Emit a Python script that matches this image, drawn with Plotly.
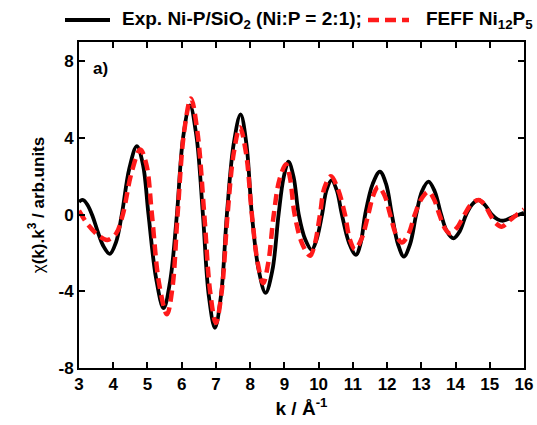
import plotly.graph_objects as go

# chi(k)*k^3 EXAFS oscillations: experimental spectrum and FEFF model
k_exp = [3.00, 3.12, 3.25, 3.40, 3.55, 3.70, 3.90, 4.08, 4.25, 4.47, 4.69, 4.87, 5.03, 5.25,
         5.47, 5.66, 5.86, 6.04, 6.24, 6.43, 6.62, 6.79, 6.97, 7.15, 7.32, 7.52, 7.72,
         7.89, 8.05, 8.25, 8.45, 8.65, 8.83, 8.98, 9.12, 9.27, 9.42, 9.61, 9.80, 9.94,
         10.10, 10.23, 10.38, 10.53, 10.68, 10.89, 11.09, 11.23, 11.36, 11.58, 11.79,
         11.97, 12.14, 12.32, 12.49, 12.67, 12.85, 13.02, 13.21, 13.39, 13.58, 13.75,
         13.94, 14.12, 14.31, 14.49, 14.67, 14.86, 15.06, 15.23, 15.40, 15.70, 16.00]
chi_exp = [0.67, 0.76, 0.5, -0.1, -0.9, -1.6, -2.05, -1.45, 0.0, 2.4, 3.57, 2.6, 0.0, -3.3,
           -4.88, -3.5, 0.0, 4.0, 5.7, 4.1, 0.0, -4.2, -5.9, -4.2, 0.0, 3.7, 5.23,
           3.7, 0.0, -2.9, -4.08, -2.9, 0.0, 1.95, 2.76, 1.95, 0.0, -1.3, -1.84, -1.3,
           0.0, 1.27, 1.8, 1.27, 0.0, -1.48, -2.1, -1.48, 0.0, 1.6, 2.24,
           1.6, 0.0, -1.55, -2.19, -1.55, 0.0, 1.22, 1.72, 1.22, 0.0, -0.88,
           -1.24, -0.88, 0.0, 0.54, 0.76, 0.5, 0.0, -0.25, -0.32, -0.1, 0.1]

k_feff = [3.00, 3.27, 3.61, 3.83, 4.08, 4.28, 4.53, 4.79, 4.97, 5.13, 5.34, 5.57, 5.73,
          5.88, 6.07, 6.27, 6.46, 6.66, 6.83, 7.00, 7.17, 7.34, 7.52, 7.70, 7.88, 8.05,
          8.22, 8.38, 8.53, 8.69, 8.86, 9.05, 9.17, 9.30, 9.52, 9.75, 9.89, 10.04, 10.17,
          10.36, 10.55, 10.77, 10.91, 11.06, 11.25, 11.45, 11.60, 11.74, 11.92, 12.09,
          12.26, 12.43, 12.62, 12.81, 13.01, 13.21, 13.36, 13.53, 13.68, 13.84, 14.04,
          14.26, 14.46, 14.67, 14.84, 15.01, 15.18, 15.35, 15.55, 15.80, 16.00]
chi_feff = [0.2, -0.54, -1.15, -1.32, -1.0, 0.0, 2.15, 3.4, 2.6, 0.0, -3.6, -5.2, -3.8,
            0.0, 4.3, 6.06, 4.3, 0.0, -4.0, -5.65, -4.0, 0.0, 3.2, 4.55, 3.2, 0.0,
            -2.5, -3.58, -2.5, 0.0, 1.85, 2.62, 1.85, 0.0, -1.52, -2.15, -1.52, 0.0, 1.4,
            2.0, 1.4, 0.0, -1.28, -1.81, -1.28, 0.0, 1.02, 1.45, 1.02, 0.0,
            -1.03, -1.46, -1.03, 0.0, 0.84, 1.19, 0.84, 0.0, -0.69, -0.98, -0.69,
            0.0, 0.54, 0.76, 0.54, 0.0, -0.45, -0.63, -0.35, 0.0, 0.27]

x_ticks = list(range(3, 17))
y_ticks = [-8, -4, 0, 4, 8]

series_names = ["<b>Exp. Ni-P/SiO<sub>2</sub> (Ni:P = 2:1);</b>",
                "<b>FEFF Ni<sub>12</sub>P<sub>5</sub></b>"]

font_family = "Liberation Sans, Arial, sans-serif"
W, H = 537, 425
M = dict(l=79, r=13, t=42, b=57)

black_line = dict(color="black", width=3.8)
red_line = dict(color="#ff1a1a", width=4.5, dash="11px,6px")

fig = go.Figure()
fig.add_trace(go.Scatter(
    x=k_exp, y=chi_exp, mode="lines", name=series_names[0],
    line=dict(**black_line, shape="spline", smoothing=1.0),
))
fig.add_trace(go.Scatter(
    x=k_feff, y=chi_feff, mode="lines", name=series_names[1],
    line=dict(**red_line, shape="spline", smoothing=1.0),
))

axis_common = dict(
    showline=True, linecolor="black", linewidth=2, mirror="ticks",
    ticks="inside", ticklen=6, tickwidth=1.5, tickcolor="black",
    showgrid=False, zeroline=False,
    tickfont=dict(family=font_family, size=17, color="black"),
)

fig.update_xaxes(
    range=[3, 16], tickvals=x_ticks, ticktext=[f"<b>{v}</b>" for v in x_ticks],
    title=dict(text="<b>k / Å<sup>-1</sup></b>", font=dict(family=font_family, size=19, color="black"),
               standoff=8),
    **axis_common,
)
fig.update_yaxes(
    range=[-8, 9], tickvals=y_ticks, ticktext=[f"<b>{v}</b>" for v in y_ticks],
    title=dict(text="χ<b>(k).k<sup>3</sup> / arb.units</b>",
               font=dict(family=font_family, size=17, color="black"), standoff=10),
    **axis_common,
)

fig.add_annotation(
    x=3.35, y=7.6, xref="x", yref="y", text="<b>a)</b>", showarrow=False,
    xanchor="left", font=dict(family=font_family, size=17, color="black"),
)

# Key row above the frame: line samples followed by the series labels
plot_w = W - M["l"] - M["r"]
plot_h = H - M["t"] - M["b"]


def px_to_paper_x(px):
    return (px - M["l"]) / plot_w


key_y = 1 + (M["t"] - 20) / plot_h
key_entries = [(65, 110, 120, black_line, series_names[0]),
               (368, 409, 424, red_line, series_names[1])]
for x0, x1, xt, style, label in key_entries:
    fig.add_shape(type="line", xref="paper", yref="paper",
                  x0=px_to_paper_x(x0), x1=px_to_paper_x(x1), y0=key_y, y1=key_y,
                  line=style)
    fig.add_annotation(xref="paper", yref="paper", x=px_to_paper_x(xt), y=key_y,
                       text=label, showarrow=False, xanchor="left", yanchor="middle",
                       font=dict(family=font_family, size=19, color="black"))

fig.update_layout(
    width=W, height=H,
    margin=dict(**M, autoexpand=False),
    plot_bgcolor="white", paper_bgcolor="white",
    showlegend=False,
)

fig.write_html("out.html")
